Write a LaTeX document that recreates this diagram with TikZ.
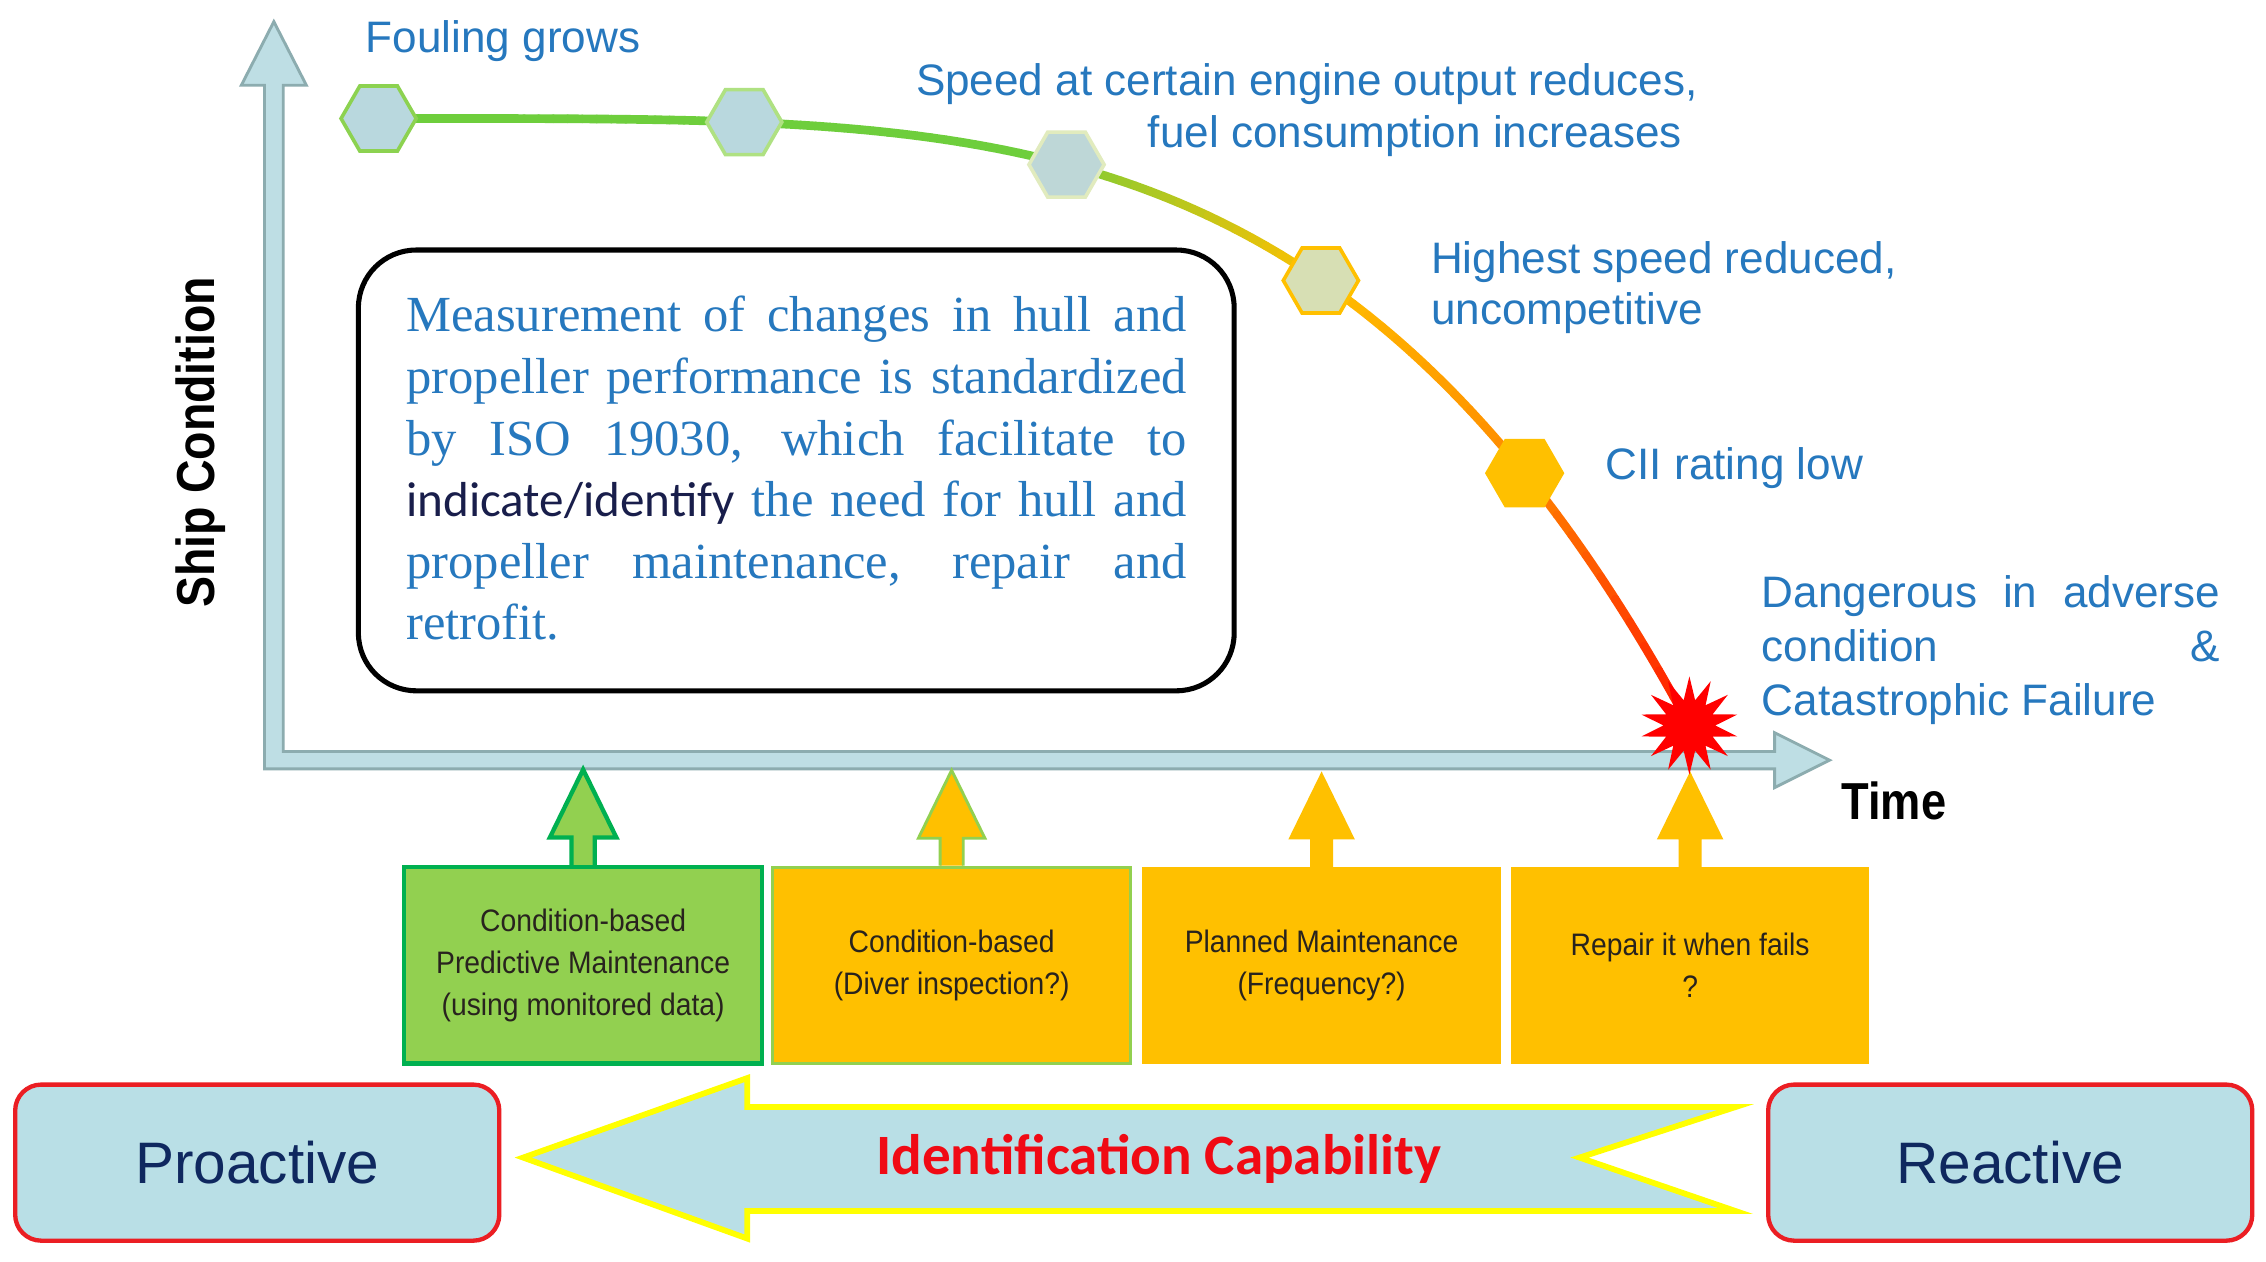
\documentclass[tikz,border=0pt]{standalone}
\usepackage{fontspec}
\usetikzlibrary{shapes.geometric,calc}
\newfontfamily\arialf{Liberation Sans}
\newfontfamily\arialn[FakeStretch=0.91]{Liberation Sans}
\newfontfamily\arialbn[FakeStretch=0.87]{Liberation Sans}
\newfontfamily\serifx{Liberation Serif}
\newfontfamily\calib{Carlito}
\definecolor{axfill}{RGB}{190,222,228}
\definecolor{axline}{RGB}{140,172,175}
\definecolor{lblue}{RGB}{38,120,190}
\definecolor{hexfill}{RGB}{185,216,222}
\definecolor{cgreen}{RGB}{110,206,60}
\definecolor{cgold}{RGB}{255,192,0}
\definecolor{corange}{RGB}{255,140,0}
\definecolor{cred}{RGB}{255,30,0}
\definecolor{gboxfill}{RGB}{146,208,80}
\definecolor{gboxline}{RGB}{0,176,80}
\definecolor{pbfill}{RGB}{185,223,230}
\definecolor{pbline}{RGB}{235,30,35}
\definecolor{navy}{RGB}{15,40,95}
\definecolor{boxtxt}{RGB}{40,35,30}
\definecolor{darkind}{RGB}{25,30,75}
\definecolor{ylw}{RGB}{255,255,0}
\definecolor{idred}{RGB}{240,10,20}
\begin{document}
\begin{tikzpicture}[x=1pt,y=-1pt,
  lbl/.style={inner sep=0, text=lblue, font=\arialf\fontsize{30.5}{36}\selectfont},
  hexa/.style={regular polygon, regular polygon sides=6, minimum size=52, inner sep=0, line width=2.5},
  mbox/.style={minimum width=248, minimum height=136, inner sep=0, align=center, text=boxtxt,
    font=\arialn\fontsize{21.5}{29}\selectfont},
  pbox/.style={draw=pbline, fill=pbfill, line width=3, rounded corners=18, minimum width=335,
    minimum height=108, inner sep=0, text=navy, font=\arialf\fontsize{40.5}{40}\selectfont},
  uparr/.pic={\path[pic actions] (8,0) -- (8,-19) -- (23,-19) -- (0,-66) -- (-23,-19) -- (-8,-19) -- (-8,0);}
]
\useasboundingbox[fill=white] (0,0) rectangle (1568,873);

% axes
\filldraw[fill=axfill, draw=axline, line width=2] (183,532) -- (183,59) -- (167,59) -- (189.5,15) -- (212,59) -- (196,59) -- (196,520) -- (1228,520) -- (1228,507) -- (1266,526) -- (1228,545) -- (1228,532) -- cycle;
\node[rotate=90, inner sep=0, font=\arialbn\bfseries\fontsize{37}{37}\selectfont] (ylab) at (139,306) {Ship Condition};
\node[anchor=base west, inner sep=0, font=\arialbn\bfseries\fontsize{36}{36}\selectfont] (time) at (1274,567) {Time};

% text box
\node[draw=black, line width=3.5, rounded corners=40, fill=white, minimum width=606, minimum height=305, inner sep=0] (tbox) at (551,325.5) {};
\node[anchor=north west, inner sep=0, text width=540, align=left, text=lblue, font=\serifx\fontsize{35}{42.6}\selectfont] (tboxtext) at (281,203.5)
 {\spaceskip=0pt\xspaceskip=0pt\noindent\rule{0pt}{26pt}\makebox[540pt][s]{Measurement of changes in hull and}\\
  \makebox[540pt][s]{propeller performance is standardized}\\
  \makebox[540pt][s]{by ISO 19030, which facilitate to}\\
  \makebox[540pt][s]{{\calib\fontsize{34}{42.6}\selectfont\color{darkind}indicate/identify} the need for hull and}\\
  \makebox[540pt][s]{propeller maintenance, repair and}\\
  retrofit.};

% curve
\foreach \i in {0,...,89}{
  \pgfmathsetmacro\ta{\i/90}
  \pgfmathsetmacro\tb{(\i+1)/90}
  \pgfmathsetmacro\tm{(\i+0.5)/90}
  \pgfmathsetmacro\pa{min(100,max(0,(\tm-0.5)/0.22*100))}
  \pgfmathsetmacro\pb{min(100,max(0,(\tm-0.72)/0.15*100))}
  \pgfmathsetmacro\pc{min(100,max(0,(\tm-0.87)/0.13*100))}
  \colorlet{c1}{cgold!\pa!cgreen}
  \colorlet{c2}{corange!\pb!c1}
  \colorlet{c3}{cred!\pc!c2}
  \draw[c3, line width=6, line cap=round] plot[domain=\ta:\tb, samples=4] ({262+906*\x},{82+418*\x*\x*\x*\x});
}

% hexagons
\node[hexa, fill=hexfill, draw={rgb,255:red,140;green,210;blue,80}] (h1) at (262,82) {};
\node[hexa, fill=hexfill, draw={rgb,255:red,175;green,225;blue,130}] (h2) at (515,84.5) {};
\node[hexa, fill={rgb,255:red,190;green,215;blue,215}, draw={rgb,255:red,225;green,235;blue,190}] (h3) at (738,113.9) {};
\node[hexa, fill={rgb,255:red,215;green,223;blue,180}, draw=cgold] (h4) at (914,194.1) {};
\node[hexa, fill=cgold, draw=cgold] (h5) at (1055,327.4) {};

% labels
\node[lbl, anchor=base west] (fouling) at (253,36) {Fouling grows};
\node[lbl, anchor=north east, align=right] (speed) at (1175,42) {\rule{0pt}{24pt}Speed at certain engine output reduces,\\fuel consumption increases\hspace*{11pt}};
\node[lbl, anchor=north west, align=left, font=\arialf\fontsize{30.5}{35}\selectfont] (highest) at (990,165) {\rule{0pt}{24pt}Highest speed reduced,\\uncompetitive};
\node[lbl, anchor=base west] (cii) at (1111,332) {CII rating low};
\node[lbl, anchor=north west, text width=317, align=left, font=\arialf\fontsize{30.5}{37.5}\selectfont] (danger) at (1219,396)
 {\spaceskip=0pt\xspaceskip=0pt\noindent\rule{0pt}{24pt}\makebox[317pt][s]{Dangerous in adverse}\\\makebox[317pt][s]{condition \&}\\Catastrophic Failure};

% maintenance boxes
\node[mbox, fill=gboxfill, draw=gboxline, line width=3] (b1) at (403.5,668) {Condition-based\\Predictive Maintenance\\(using monitored data)};
\node[mbox, fill=cgold, draw=gboxfill, line width=2] (b2) at (658.5,668) {Condition-based\\(Diver inspection?)};
\node[mbox, fill=cgold] (b3) at (914.5,668) {Planned Maintenance\\(Frequency?)};
\node[mbox, fill=cgold] (b4) at (1169.5,668) {Repair it when fails\\?};
\path (b1.north) pic[fill=gboxfill, draw=gboxline, line width=3] {uparr};
\path (b2.north) pic[fill=cgold, draw=gboxfill, line width=2] {uparr};
\path (b3.north) pic[fill=cgold] {uparr};
\path (b4.north) pic[fill=cgold] {uparr};

% failure star
\node[star, star points=14, star point ratio=1.9, fill=red, inner sep=0, minimum size=68] (boom) at (1169,502) {};

% bottom
\node[pbox] (pro) at (178,804.5) {Proactive};
\node[pbox] (rea) at (1391,804.5) {Reactive};
\filldraw[fill=pbfill, draw=ylw, line width=4] (362,801) -- (517,746) -- (517,766) -- (1201,766) -- (1093,801) -- (1201,838) -- (517,838) -- (517,857) -- cycle;
\node[anchor=base, inner sep=0, text=idred, font=\calib\bfseries\fontsize{39.5}{40}\selectfont] (idcap) at (802,813) {Identification Capability};
\end{tikzpicture}
\end{document}
